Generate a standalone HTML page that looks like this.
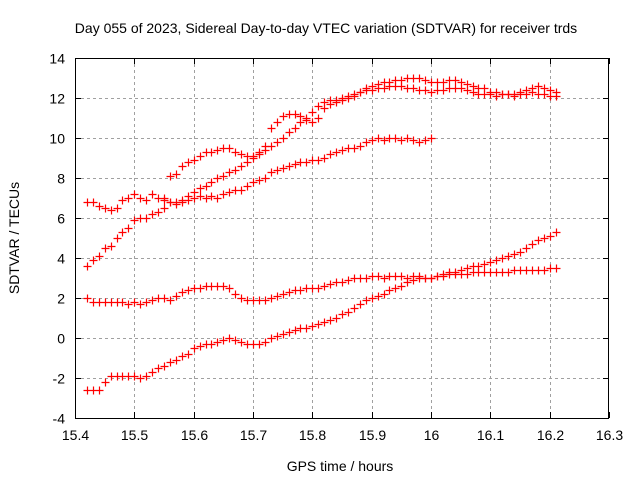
<!DOCTYPE html>
<html><head><meta charset="utf-8"><style>
body{margin:0;background:#fff}
svg{display:block;font-family:"Liberation Sans",sans-serif}
</style></head><body>
<svg id="chart" width="640" height="480">
<text x="326" y="33" font-size="14" text-anchor="middle">Day 055 of 2023, Sidereal Day-to-day VTEC variation (SDTVAR) for receiver trds</text>
<text x="340" y="471" font-size="14" text-anchor="middle">GPS time / hours</text>
<text transform="translate(19,238) rotate(-90)" font-size="14" text-anchor="middle">SDTVAR / TECUs</text>
<g id="grid"></g><g id="marks"></g><g id="axes"></g>
</svg>
<script>
const xTicks=[15.4,15.5,15.6,15.7,15.8,15.9,16,16.1,16.2,16.3];
const yTicks=[-4,-2,0,2,4,6,8,10,12,14];
const tStep=0.01;
const seriesAStart=15.42;
const seriesA=[6.8,6.8,6.6,6.5,6.4,6.5,6.9,7.0,7.2,7.0,6.9,7.2,7.0,7.0,
8.1,8.2,8.6,8.8,8.9,9.1,9.3,9.3,9.4,9.5,9.5,9.3,9.2,9.1,9.1,9.3,9.6,
10.5,10.8,11.1,11.2,11.2,11.1,10.9,10.8,
11.0,11.5,11.7,11.8,11.9,12.0,12.1,12.3,12.5,12.6,
12.7,12.8,12.8,12.9,12.9,13.0,13.0,13.0,12.9,12.8,
12.8,12.8,12.9,12.9,12.8,12.7,12.6,12.5,12.5,12.3,
12.3,12.2,12.2,12.2,12.3,12.4,12.5,12.6,12.5,12.4,12.3];
const seriesBStart=15.42;
const seriesB=[3.6,3.9,4.1,4.5,4.6,5.0,5.3,5.5,5.9,6.0,6.0,6.2,6.3,6.5,
6.8,6.8,6.9,7.1,7.3,7.5,7.6,7.8,8.0,8.1,8.3,8.4,8.6,8.8,9.0,9.2,9.4,
9.6,9.8,10.0,10.3,10.5,10.8,11.0,11.3,
11.6,11.8,11.9,11.9,12.0,12.1,12.2,12.3,12.4,12.4,
12.5,12.5,12.6,12.6,12.6,12.5,12.5,12.4,12.4,12.3,
12.4,12.4,12.5,12.5,12.5,12.4,12.3,12.2,12.2,12.2,
12.1,12.2,12.2,12.1,12.2,12.2,12.3,12.2,12.2,12.1,12.1];
const seriesCStart=15.55;
const seriesC=[6.9,6.8,6.7,6.8,6.9,7.0,7.1,7.0,7.1,7.0,7.2,7.3,7.4,7.4,7.6,7.8,7.9,8.0,8.3,8.4,8.5,8.6,8.7,8.8,8.8,8.9,8.9,9.0,9.2,9.3,9.4,9.5,9.5,9.6,9.8,9.9,10.0,9.9,10.0,10.0,9.9,10.0,9.9,9.8,9.9,10.0];
const seriesDStart=15.42;
const seriesD=[2.0,1.8,1.8,1.8,1.8,1.8,1.8,1.7,1.8,1.7,1.8,1.9,2.0,2.0,
1.9,2.1,2.3,2.4,2.5,2.5,2.6,2.6,2.6,2.6,2.5,2.2,2.0,1.9,1.9,1.9,1.9,
2.0,2.1,2.2,2.3,2.4,2.4,2.5,2.5,
2.5,2.6,2.7,2.8,2.8,2.9,3.0,3.0,3.0,3.1,
3.1,3.0,3.1,3.1,3.1,3.0,3.1,3.1,3.0,3.0,
3.1,3.1,3.2,3.2,3.2,3.2,3.3,3.3,3.3,3.3,
3.3,3.3,3.3,3.4,3.4,3.4,3.4,3.4,3.4,3.5,3.5];
const seriesEStart=15.42;
const seriesE=[-2.6,-2.6,-2.6,-2.2,-1.9,-1.9,-1.9,-1.9,-1.9,-2.0,-1.9,-1.7,-1.5,-1.4,
-1.2,-1.1,-0.9,-0.8,-0.5,-0.4,-0.3,-0.3,-0.2,-0.1,0.0,-0.1,-0.2,-0.3,-0.3,-0.3,-0.2,
0.0,0.1,0.2,0.3,0.4,0.5,0.5,0.6,
0.7,0.8,0.9,1.0,1.2,1.3,1.5,1.7,1.9,2.0,
2.1,2.2,2.4,2.5,2.6,2.8,2.9,3.0,3.0,3.0,
3.1,3.2,3.3,3.3,3.4,3.5,3.6,3.6,3.7,3.8,
3.9,4.0,4.1,4.2,4.3,4.5,4.7,4.9,5.0,5.1,5.3];

const L=75,R=609,T=58,B=418;
const X=v=>L+(v-15.4)/(16.3-15.4)*(R-L);
const Y=v=>B-(v+4)/18*(B-T);
const NS='http://www.w3.org/2000/svg';
function mk(tag,attrs,parent){const e=document.createElementNS(NS,tag);for(const k in attrs)e.setAttribute(k,attrs[k]);parent.appendChild(e);return e;}
const grid=document.getElementById('grid'),axes=document.getElementById('axes'),marks=document.getElementById('marks');
xTicks.forEach(t=>{const x=Math.round(X(t))+0.5;
 if(t>15.4&&t<16.3){const g=mk('line',{x1:x,y1:T,x2:x,y2:B,stroke:'#a0a0a0','stroke-dasharray':'3,3'},grid);
 
 }
 mk('line',{x1:x,y1:B,x2:x,y2:B-6,stroke:'#000'},axes);
 mk('line',{x1:x,y1:T,x2:x,y2:T+6,stroke:'#000'},axes);
 const lb=mk('text',{x:x,y:B+22,'font-size':14,'text-anchor':'middle'},axes);lb.textContent=String(t);
 
 
});
yTicks.forEach(t=>{const y=Math.round(Y(t))+0.5;
 if(t>-4&&t<14){const g=mk('line',{x1:L,y1:y,x2:R,y2:y,stroke:'#a0a0a0','stroke-dasharray':'3,3'},grid);
 
 }
 mk('line',{x1:L,y1:y,x2:L+6,y2:y,stroke:'#000'},axes);
 mk('line',{x1:R,y1:y,x2:R-6,y2:y,stroke:'#000'},axes);
 const lb=mk('text',{x:L-10,y:y+5,'font-size':14,'text-anchor':'end'},axes);lb.textContent=String(t);
 
 
});
const frame=mk('rect',{x:L+0.5,y:T+0.5,width:R-L-1,height:B-T,fill:'none',stroke:'#000'},axes);


function draw(start,vals,name){
 const g=mk('g',{},marks);
 
 
 let d='';
 vals.forEach((v,i)=>{const x=Math.round(X(start+i*tStep))+0.5,y=Math.round(Y(v))+0.5;
  d+=`M${x-4},${y}h8M${x},${y-4}v8`;});
 mk('path',{d:d,stroke:'#ff0000','stroke-width':1.2,fill:'none'},g);
}
draw(seriesAStart,seriesA,'series-a-points');
draw(seriesBStart,seriesB,'series-b-points');
draw(seriesCStart,seriesC,'series-c-points');
draw(seriesDStart,seriesD,'series-d-points');
draw(seriesEStart,seriesE,'series-e-points');
</script>
</body></html>
